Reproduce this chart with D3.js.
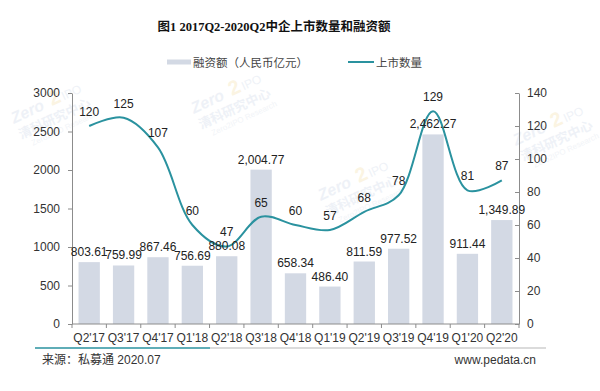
<!DOCTYPE html>
<html>
<head>
<meta charset="utf-8">
<script src="https://cdn.jsdelivr.net/npm/d3@7/dist/d3.min.js"></script>
<style>
  html, body { margin: 0; padding: 0; background: #fff; }
  svg { display: block; }
  text { font-family: "Liberation Sans", Arial, "Noto Sans CJK SC", sans-serif; }
</style>
</head>
<body>
<div id="chart"></div>
<script>
const title = "图1 2017Q2-2020Q2中企上市数量和融资额";
const categories = ["Q2'17","Q3'17","Q4'17","Q1'18","Q2'18","Q3'18","Q4'18","Q1'19","Q2'19","Q3'19","Q4'19","Q1'20","Q2'20"];
const financing = [803.61, 759.99, 867.46, 756.69, 880.08, 2004.77, 658.34, 486.40, 811.59, 977.52, 2462.27, 911.44, 1349.89];
const listings = [120, 125, 107, 60, 47, 65, 60, 57, 68, 78, 129, 81, 87];
const leftTicks = [0, 500, 1000, 1500, 2000, 2500, 3000];
const rightTicks = [0, 20, 40, 60, 80, 100, 120, 140];
const seriesNames = ["融资额（人民币亿元）", "上市数量"];
const sourceText = "来源：私募通 2020.07";
const siteText = "www.pedata.cn";

(function () {
const W = 600, H = 391;
const barColor = "#d3d9e4", lineColor = "#2a929f", axisColor = "#8c8c8c", textColor = "#333";

const svg = d3.select("#chart").append("svg").attr("width", W).attr("height", H);

const pLeft = 72, pRight = 519, pTop = 93, pBottom = 324;

const x = d3.scaleBand().domain(categories).range([pLeft, pRight]).paddingInner(0.38).paddingOuter(0.19);
const yL = d3.scaleLinear().domain([0, 3000]).range([pBottom, pTop]);
const yR = d3.scaleLinear().domain([0, 140]).range([pBottom, pTop]);

// faint watermarks
const wm = [[38, 128], [218, 118], [345, 205], [540, 150]];
wm.forEach(([wx, wy]) => {
  const g = svg.append("g").attr("transform", `translate(${wx},${wy}) rotate(-25)`).attr("opacity", 0.3);
  g.append("text").attr("x", -20).attr("y", -14).attr("font-size", 16).attr("font-weight", "bold")
    .attr("fill", "#c9d4e6").attr("font-style", "italic").text("Zero");
  g.append("text").attr("x", 22).attr("y", -14).attr("font-size", 20).attr("font-weight", "bold")
    .attr("fill", "#f2dca0").text("2");
  g.append("text").attr("x", 35).attr("y", -14).attr("font-size", 12).attr("fill", "#c9d4e6").text("IPO");
  g.append("text").attr("x", -20).attr("y", 3).attr("font-size", 13).attr("font-weight", "bold")
    .attr("fill", "#c9d4e6").style("font-family", "'Noto Sans CJK SC',sans-serif").text("清科研究中心");
  g.append("text").attr("x", -12).attr("y", 14).attr("font-size", 8).attr("fill", "#d3dbe8").text("Zero2IPO Research");
});

// title
svg.append("text").attr("x", 274).attr("y", 31).attr("text-anchor", "middle")
  .attr("font-size", 12.5).attr("font-weight", "bold").attr("fill", "#111")
  .style("font-family", "'Liberation Serif','Noto Sans CJK SC',serif")
  .text(title);

// legend
const lg = svg.append("g");
lg.append("rect").attr("x", 167).attr("y", 59.5).attr("width", 24).attr("height", 5).attr("fill", barColor);
lg.append("text").attr("x", 193).attr("y", 66.5).attr("font-size", 11.5).attr("fill", "#444")
  .style("font-family", "'Noto Sans CJK SC',sans-serif").text(seriesNames[0]);
lg.append("line").attr("x1", 348).attr("x2", 374).attr("y1", 62).attr("y2", 62)
  .attr("stroke", lineColor).attr("stroke-width", 2);
lg.append("text").attr("x", 376).attr("y", 66.5).attr("font-size", 11.5).attr("fill", "#444")
  .style("font-family", "'Noto Sans CJK SC',sans-serif").text(seriesNames[1]);

// bars
svg.append("g").selectAll("rect").data(financing).join("rect")
  .attr("x", (d, i) => x(categories[i]))
  .attr("y", d => yL(d))
  .attr("width", x.bandwidth())
  .attr("height", d => pBottom - yL(d))
  .attr("fill", barColor);

// left axis
const axL = svg.append("g").attr("transform", `translate(${pLeft},0)`)
  .call(d3.axisLeft(yL).tickValues(leftTicks).tickSize(4).tickSizeOuter(0).tickPadding(8).tickFormat(d3.format("d")));
// right axis
const axR = svg.append("g").attr("transform", `translate(${pRight},0)`)
  .call(d3.axisRight(yR).tickValues(rightTicks).tickSize(-4).tickSizeOuter(0).tickPadding(8).tickFormat(d3.format("d")));
[axL, axR].forEach(a => {
  a.select(".domain").attr("stroke", axisColor);
  a.selectAll(".tick line").attr("stroke", axisColor);
  a.selectAll(".tick text").attr("font-size", 12).attr("fill", textColor)
    .style("font-family", "'Liberation Sans',Arial,sans-serif");
});

// bottom axis
const bx = svg.append("g");
bx.append("line").attr("x1", pLeft).attr("x2", pRight).attr("y1", pBottom).attr("y2", pBottom).attr("stroke", axisColor);
const bounds = categories.map(c => x(c) - x.step() * x.paddingInner() / 2).concat([pRight]);
bx.selectAll("line.t").data(bounds).join("line").attr("class", "t")
  .attr("x1", d => d).attr("x2", d => d).attr("y1", pBottom).attr("y2", pBottom + 4).attr("stroke", axisColor);
bx.selectAll("text").data(categories).join("text")
  .attr("x", d => x(d) + x.bandwidth() / 2).attr("y", pBottom + 18)
  .attr("text-anchor", "middle").attr("font-size", 12).attr("fill", textColor).text(d => d);

// line
const cx = (i) => x(categories[i]) + x.bandwidth() / 2;
const line = d3.line().x((d, i) => cx(i)).y(d => yR(d)).curve(d3.curveCatmullRom.alpha(0.5));
svg.append("path").datum(listings).attr("d", line).attr("fill", "none")
  .attr("stroke", lineColor).attr("stroke-width", 2);

// bar labels
const fmt = d3.format(",.2f");
svg.append("g").selectAll("text").data(financing).join("text")
  .attr("x", (d, i) => cx(i)).attr("y", d => yL(d) - 6)
  .attr("text-anchor", "middle").attr("font-size", 12).attr("fill", "#222").text(d => fmt(d));

// line labels
svg.append("g").selectAll("text").data(listings).join("text")
  .attr("x", (d, i) => cx(i)).attr("y", d => yR(d) - 10)
  .attr("text-anchor", "middle").attr("font-size", 12).attr("fill", "#222").text(d => d);

// footer
svg.append("line").attr("x1", 35).attr("x2", 210).attr("y1", 348).attr("y2", 348).attr("stroke", lineColor).attr("stroke-width", 1.5);
svg.append("line").attr("x1", 210).attr("x2", 546).attr("y1", 348).attr("y2", 348).attr("stroke", "#cfcfcf").attr("stroke-width", 1.5);
svg.append("text").attr("x", 42).attr("y", 364).attr("font-size", 12).attr("fill", "#333")
  .style("font-family", "'Liberation Sans','Noto Sans CJK SC',sans-serif").text(sourceText);
svg.append("text").attr("x", 536).attr("y", 364).attr("text-anchor", "end").attr("font-size", 12).attr("fill", "#333").text(siteText);
})();
</script>
</body>
</html>
